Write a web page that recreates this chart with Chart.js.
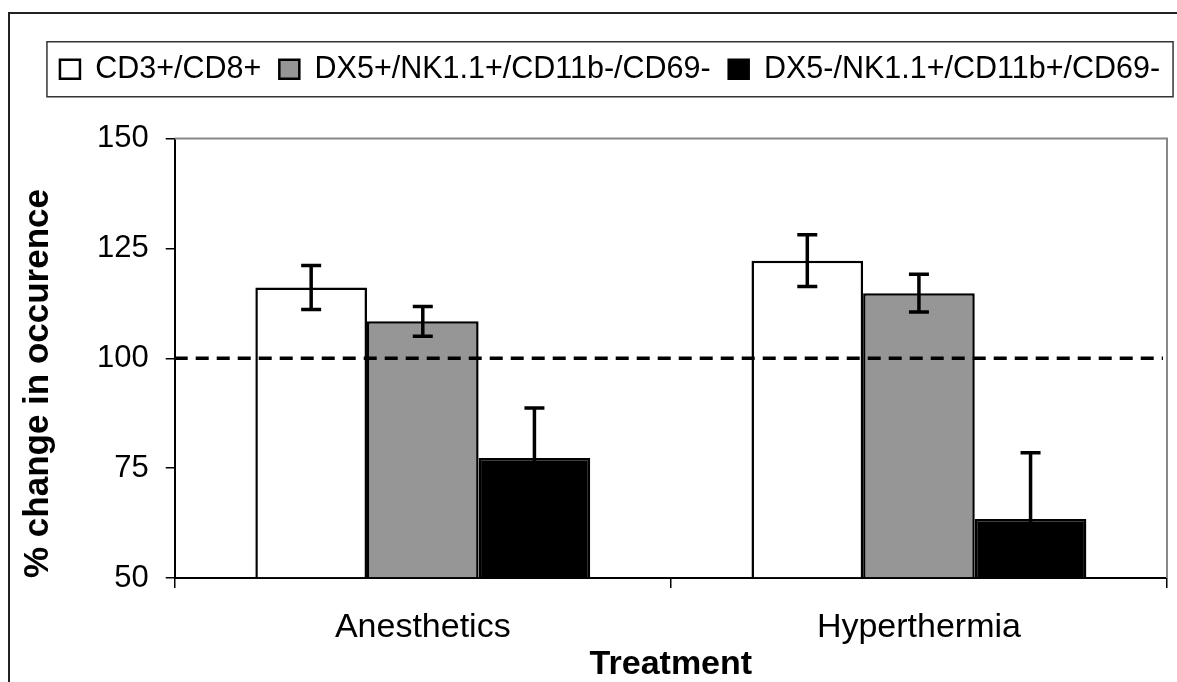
<!DOCTYPE html>
<html>
<head>
<meta charset="utf-8">
<title>% change in occurence by treatment</title>
<script src="https://cdn.jsdelivr.net/npm/chart.js@4.4.1/dist/chart.umd.min.js"></script>
<style>
  html, body { margin: 0; padding: 0; background: #fff; overflow: hidden; }
  #wrap { position: relative; width: 1177px; height: 682px; }
  #frame { position: absolute; left: 8px; top: 12px; right: -10px; bottom: -10px; border: 2px solid #222; pointer-events: none; }
</style>
</head>
<body>
<div id="wrap">
  <canvas id="myChart"></canvas>
  <div id="frame"></div>
</div>
<script>
/* globals Chart:false */

// Data
const categories = ['Anesthetics', 'Hyperthermia']
const seriesNames = ['CD3+/CD8+', 'DX5+/NK1.1+/CD11b-/CD69-', 'DX5-/NK1.1+/CD11b+/CD69-']
const cd3cd8 = [116.1, 122.2]
const cd3cd8Err = [5.0, 5.9]
const dx5pos = [108.4, 114.8]
const dx5posErr = [3.4, 4.3]
const dx5neg = [77.3, 63.4]
const dx5negErr = [11.4, 15.1]
const yTicks = [50, 75, 100, 125, 150]
const baseline = 100

const LEGEND_SHIFT = 18
const LEGEND_GAP = 44
const X_AXIS_HEIGHT = 104

;(() => {
  'use strict'

  Chart.defaults.font.family = "Arial, 'Liberation Sans', sans-serif"
  Chart.defaults.color = '#000'

  // extra room under the legend, and a frame round it
  const legendGap = {
    id: 'legendGap',
    beforeInit (chart) {
      const fit = chart.legend.fit
      chart.legend.fit = function () {
        fit.bind(chart.legend)()
        this.height += LEGEND_GAP
      }
    },
    afterLayout (chart) {
      chart.legend.left += LEGEND_SHIFT
      chart.legend.right += LEGEND_SHIFT
    },
    afterDraw (chart) {
      const boxes = chart.legend.legendHitBoxes
      if (!boxes || !boxes.length) return
      const ctx = chart.ctx
      const left = Math.min(...boxes.map(b => b.left)) - 13
      const right = Math.max(...boxes.map(b => b.left + b.width)) + 13
      const cy = boxes[0].top + boxes[0].height / 2
      ctx.save()
      ctx.strokeStyle = '#333'
      ctx.lineWidth = 1.5
      ctx.strokeRect(left, cy - 27.5, right - left, 55)
      ctx.restore()
    }
  }

  // grey top/right border of the plot
  const plotFrame = {
    id: 'plotFrame',
    beforeDatasetsDraw (chart) {
      const { ctx, chartArea: a } = chart
      ctx.save()
      ctx.strokeStyle = '#888'
      ctx.lineWidth = 2
      ctx.beginPath()
      ctx.moveTo(a.left, a.top)
      ctx.lineTo(a.right, a.top)
      ctx.lineTo(a.right, a.bottom)
      ctx.stroke()
      ctx.restore()
    }
  }

  // error bars + dashed 100% line
  const errorBars = {
    id: 'errorBars',
    afterDatasetsDraw (chart) {
      const { ctx, chartArea: a } = chart
      const y = chart.scales.y
      ctx.save()
      ctx.beginPath()
      ctx.rect(a.left, a.top, a.right - a.left, a.bottom - a.top)
      ctx.clip()
      ctx.strokeStyle = '#000'
      ctx.lineWidth = 3.5
      chart.data.datasets.forEach((ds, i) => {
        const meta = chart.getDatasetMeta(i)
        meta.data.forEach((bar, j) => {
          const v = ds.data[j]
          const e = ds.errors[j]
          const yTop = y.getPixelForValue(v + e)
          const yBot = y.getPixelForValue(v - e)
          ctx.beginPath()
          ctx.moveTo(bar.x, yTop)
          ctx.lineTo(bar.x, yBot)
          ctx.moveTo(bar.x - 10, yTop)
          ctx.lineTo(bar.x + 10, yTop)
          ctx.moveTo(bar.x - 10, yBot)
          ctx.lineTo(bar.x + 10, yBot)
          ctx.stroke()
        })
      })

      const yb = y.getPixelForValue(baseline)
      ctx.lineWidth = 3.5
      ctx.setLineDash([13, 8])
      ctx.beginPath()
      ctx.moveTo(a.left, yb)
      ctx.lineTo(a.right - 4, yb)
      ctx.stroke()
      ctx.restore()
    }
  }

  const ctx = document.getElementById('myChart')

  // eslint-disable-next-line no-unused-vars
  const myChart = new Chart(ctx, {
    type: 'bar',
    data: {
      labels: categories,
      datasets: [{
        label: seriesNames[0],
        data: cd3cd8,
        errors: cd3cd8Err,
        backgroundColor: '#ffffff',
        borderColor: '#000',
        borderWidth: 2.5
      }, {
        label: seriesNames[1],
        data: dx5pos,
        errors: dx5posErr,
        backgroundColor: '#969696',
        borderColor: '#000',
        borderWidth: 2.5
      }, {
        label: seriesNames[2],
        data: dx5neg,
        errors: dx5negErr,
        backgroundColor: '#000000',
        borderColor: '#000',
        borderWidth: 2.5
      }]
    },
    options: {
      responsive: true,
      maintainAspectRatio: false,
      animation: false,
      layout: {
        padding: { left: 17, right: 10, top: 36, bottom: 0 }
      },
      datasets: {
        bar: {
          barPercentage: 1,
          categoryPercentage: 0.675,
          base: yTicks[0]
        }
      },
      scales: {
        x: {
          afterFit (scale) {
            scale.height = X_AXIS_HEIGHT
          },
          grid: {
            drawOnChartArea: false,
            tickLength: 10,
            color: '#000',
            lineWidth: 1.5
          },
          border: { color: '#000', width: 2 },
          ticks: {
            font: { size: 34, lineHeight: 1 },
            padding: 23
          },
          title: {
            display: true,
            text: 'Treatment',
            font: { size: 34, weight: 'bold', lineHeight: 1 },
            padding: { top: 0, bottom: 0 }
          }
        },
        y: {
          min: yTicks[0],
          max: yTicks[yTicks.length - 1],
          ticks: {
            stepSize: yTicks[1] - yTicks[0],
            font: { size: 31 },
            padding: 17
          },
          grid: {
            drawOnChartArea: false,
            tickLength: 9,
            color: '#000',
            lineWidth: 1.5
          },
          border: { color: '#000', width: 2 },
          title: {
            display: true,
            text: '% change in occurence',
            align: 'start',
            font: { size: 35, weight: 'bold' },
            padding: { top: 0, bottom: 21 }
          }
        }
      },
      plugins: {
        legend: {
          position: 'top',
          labels: {
            boxWidth: 20,
            boxHeight: 19,
            padding: 18,
            font: { size: 30.5 },
            color: '#000'
          }
        },
        tooltip: { enabled: false }
      }
    },
    plugins: [legendGap, plotFrame, errorBars]
  })
})()
</script>
</body>
</html>
